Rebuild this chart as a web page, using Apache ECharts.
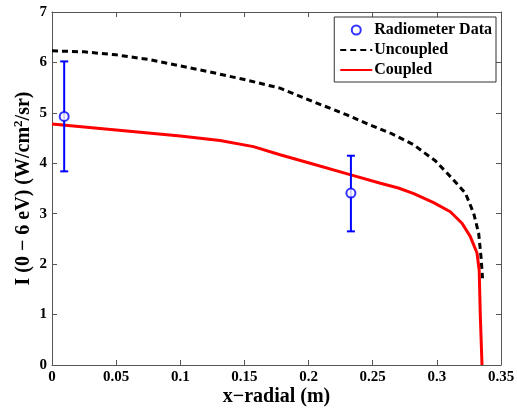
<!DOCTYPE html>
<html>
<head>
<meta charset="utf-8">
<script src="https://cdn.jsdelivr.net/npm/echarts@6/dist/echarts.min.js"></script>
<style>html,body{margin:0;padding:0;background:#fff;}#c{width:517px;height:408px;}</style>
</head>
<body>
<div id="c"></div>
<script>
// Radiometer data: x, y, lower, upper
const radX = [0.0095, 0.233];
const radY = [4.93, 3.41];
const radLow = [3.84, 2.65];
const radHigh = [6.02, 4.15];

// Uncoupled (dashed)
const uncX = [0, 0.025, 0.05, 0.075, 0.1, 0.125, 0.15, 0.1778, 0.2038, 0.2299, 0.248, 0.2637, 0.2818, 0.2897, 0.2988, 0.313, 0.3222, 0.3287, 0.3326, 0.3344, 0.3356];
const uncY = [6.23, 6.21, 6.15, 6.06, 5.93, 5.8, 5.66, 5.49, 5.22, 4.96, 4.76, 4.60, 4.37, 4.22, 4.05, 3.67, 3.41, 3.01, 2.61, 2.15, 1.72];

// Coupled (solid red)
const cplX = [0, 0.05, 0.1, 0.131, 0.157, 0.1778, 0.2012, 0.233, 0.256, 0.27, 0.282, 0.2975, 0.3105, 0.3196, 0.326, 0.3313, 0.333, 0.3339, 0.3352];
const cplY = [4.78, 4.66, 4.54, 4.45, 4.33, 4.17, 4.00, 3.77, 3.605, 3.51, 3.40, 3.22, 3.04, 2.81, 2.55, 2.22, 1.88, 0.96, 0];

const xTicks = [0, 0.05, 0.1, 0.15, 0.2, 0.25, 0.3, 0.35];
const yTicks = [0, 1, 2, 3, 4, 5, 6, 7];

const FONT = '"Liberation Serif", "Times New Roman", serif';
const AX = '#555';

const zip = (a, b) => a.map((v, i) => [v, b[i]]);

const chart = echarts.init(document.getElementById('c'));
const axCommon = {
  axisLine: { show: true, onZero: false, lineStyle: { color: AX, width: 1 } },
  axisTick: { show: true, inside: true, length: 5, lineStyle: { color: AX } },
  splitLine: { show: false }
};
chart.setOption({
  animation: false,
  backgroundColor: '#fff',
  grid: { left: 52, right: 16, top: 12, bottom: 43, containLabel: false, outerBoundsMode: 'none' },
  xAxis: [
    Object.assign({
      type: 'value', min: 0, max: 0.35, interval: 0.05, position: 'bottom',
      name: 'x\u2212radial (m)', nameLocation: 'middle', nameGap: 22, nameMoveOverlap: false,
      nameTextStyle: { fontFamily: FONT, fontWeight: 'bold', fontSize: 20, color: '#000' },
      axisLabel: { fontFamily: FONT, fontWeight: 'bold', fontSize: 15, color: '#000', margin: 5,
        formatter: v => { const t = xTicks.find(k => Math.abs(k - v) < 1e-9); return t === undefined ? '' : String(t); } }
    }, axCommon),
    Object.assign({
      type: 'value', min: 0, max: 0.35, interval: 0.05, position: 'top',
      axisLabel: { show: false }
    }, axCommon)
  ],
  yAxis: [
    Object.assign({
      type: 'value', min: 0, max: 7, interval: 1, position: 'left',
      name: '{m|I (0 \u2212 6 eV) (W/cm}{s|2}{m|/sr)}', nameLocation: 'middle', nameGap: 18, nameRotate: 90, nameMoveOverlap: false,
      nameTextStyle: { fontFamily: FONT, fontWeight: 'bold', fontSize: 20, color: '#000',
        rich: {
          m: { fontFamily: FONT, fontWeight: 'bold', fontSize: 20, color: '#000', lineHeight: 22, verticalAlign: 'bottom' },
          s: { fontFamily: FONT, fontWeight: 'bold', fontSize: 13, color: '#000', lineHeight: 22, verticalAlign: 'top', padding: [0, 0, 9, 0] }
        } },
      axisLabel: { fontFamily: FONT, fontWeight: 'bold', fontSize: 15, color: '#000', margin: 5,
        formatter: v => { const t = yTicks.find(k => Math.abs(k - v) < 1e-9); return t === undefined ? '' : String(t); } }
    }, axCommon),
    Object.assign({
      type: 'value', min: 0, max: 7, interval: 1, position: 'right',
      axisLabel: { show: false }
    }, axCommon)
  ],
  legend: {
    orient: 'vertical', right: 21, top: 17,
    backgroundColor: '#fff', borderColor: '#333', borderWidth: 1,
    padding: [5, 4, 4, 5], itemGap: 4, itemWidth: 32, itemHeight: 9,
    textStyle: { fontFamily: FONT, fontWeight: 'bold', fontSize: 16, color: '#000', padding: [0, 0, 0, -3] },
    data: [
      { name: 'Radiometer Data', icon: 'emptyCircle', itemStyle: { color: '#0000ff', borderColor: '#0000ff', borderWidth: 2 } },
      { name: 'Uncoupled', itemStyle: { opacity: 0 } },
      { name: 'Coupled', itemStyle: { opacity: 0 } }
    ]
  },
  series: [
    {
      name: 'Radiometer Data', type: 'scatter', xAxisIndex: 0, yAxisIndex: 0,
      data: zip(radX, radY), symbol: 'emptyCircle', symbolSize: 9,
      itemStyle: { color: '#0000ff', borderColor: '#0000ff', borderWidth: 2 }, z: 5
    },
    {
      name: 'Uncoupled', type: 'line', xAxisIndex: 0, yAxisIndex: 0,
      data: zip(uncX, uncY), showSymbol: false, symbol: 'none', smooth: false,
      lineStyle: { color: '#000', width: 3, type: [6, 4] }, itemStyle: { color: '#000' }, z: 3
    },
    {
      name: 'Coupled', type: 'line', xAxisIndex: 0, yAxisIndex: 0,
      data: zip(cplX, cplY), showSymbol: false, symbol: 'none', smooth: false,
      lineStyle: { color: '#ff0000', width: 3 }, itemStyle: { color: '#ff0000' }, z: 3
    },
    {
      name: 'Radiometer Data', type: 'custom', xAxisIndex: 0, yAxisIndex: 0,
      data: radX.map((x, i) => [x, radLow[i], radHigh[i]]),
      encode: { x: 0, y: [1, 2] },
      renderItem: (params, api) => {
        const x = api.value(0);
        const lo = api.coord([x, api.value(1)]);
        const hi = api.coord([x, api.value(2)]);
        const cap = 4;
        const st = { stroke: '#0000ff', lineWidth: 2 };
        return { type: 'group', children: [
          { type: 'line', shape: { x1: lo[0], y1: lo[1], x2: hi[0], y2: hi[1] }, style: st },
          { type: 'line', shape: { x1: lo[0] - cap, y1: lo[1], x2: lo[0] + cap, y2: lo[1] }, style: st },
          { type: 'line', shape: { x1: hi[0] - cap, y1: hi[1], x2: hi[0] + cap, y2: hi[1] }, style: st }
        ] };
      },
      itemStyle: { color: '#0000ff' }, z: 4
    }
  ]
});
</script>
</body>
</html>
